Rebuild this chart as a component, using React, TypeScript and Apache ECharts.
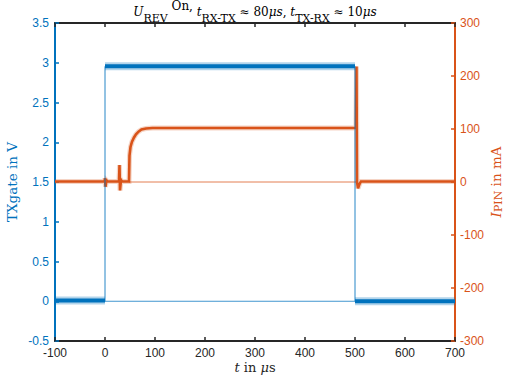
import React, { useEffect, useRef } from "react";
import * as echarts from "echarts";

// ---- data ----
const xMin = -100;
const xMax = 700;
const xInterval = 100;
const leftMin = -0.5;
const leftMax = 3.5;
const leftInterval = 0.5;
const rightMin = -300;
const rightMax = 300;
const rightInterval = 100;

// TXgate in V
const gateLowBefore: number[][] = [[-100, 0.01], [0, 0.01]];
const gateHigh: number[][] = [[0, 2.955], [500, 2.955]];
const gateLowAfter: number[][] = [[500, 0.0], [700, 0.0]];
const gateEdges: number[][] = [[-100, 0], [0, 0], [0, 2.955], [500, 2.955], [500, 0], [700, 0]];
const gateReturn: number[][] = [[0, 0], [500, 0]];

// I_PIN in mA
const pinCurrent: number[][] = [
  [-100, 1], [-1, 1], [0, 7], [1, -9], [3, 3], [5, 1], [28, 1], [29, 32], [30, -16],
  [32, 4], [34, 1], [48, 1], [49, 50], [51, 66], [54, 76], [58, 84], [62, 90], [67, 95],
  [73, 99], [82, 101], [95, 102], [500, 102], [502, 102], [503, 218], [504, 0],
  [506, -12], [509, -4], [512, 1], [700, 1],
];
const pinReturn: number[][] = [[48, 0], [503, 0]];

const BLUE = "#0072BD";
const ORANGE = "#D95319";
const DARK = "#262626";
const SERIF = "'DejaVu Serif', 'Liberation Serif', serif";
const SANS = "'Liberation Sans', Arial, Helvetica, sans-serif";

export default function App() {
  const ref = useRef<HTMLDivElement>(null);
  useEffect(() => {
    if (!ref.current) return;
    const chart = echarts.init(ref.current, undefined, { renderer: "svg" });
    const lineSeries = (
      data: number[][],
      yAxisIndex: number,
      color: string,
      width: number,
      opacity = 1,
      z = 2
    ) => ({
      type: "line",
      data,
      xAxisIndex: 0,
      yAxisIndex,
      symbol: "none",
      silent: true,
      z,
      lineStyle: { color, width, opacity, join: "miter", cap: "butt" },
    });
    chart.setOption({
      animation: false,
      title: {
        text:
          "{i|U}{sub|REV} {sup|On,} {i|t}{sub|RX-TX} ≈ 80{i|μs}, {i|t}{sub|TX-RX} ≈ 10{i|μs}",
        left: 255,
        textAlign: "center",
        top: 0,
        padding: 0,
        textStyle: {
          fontFamily: SERIF,
          fontSize: 12,
          fontWeight: "normal",
          color: "#000",
          lineHeight: 24,
          rich: {
            i: { fontFamily: SERIF, fontSize: 12, fontStyle: "italic", color: "#000" },
            sub: { fontFamily: SERIF, fontSize: 11, lineHeight: 12, verticalAlign: "bottom", color: "#000" },
            sup: { fontFamily: SERIF, fontSize: 12, lineHeight: 15, verticalAlign: "top", color: "#000" },
          },
        },
      },
      grid: { left: 55, right: 51, top: 23, bottom: 36, containLabel: false, outerBoundsMode: "none" },
      xAxis: [
        {
          type: "value",
          min: xMin,
          max: xMax,
          interval: xInterval,
          position: "bottom",
          name: "{i|t} in {i|μ}s",
          nameLocation: "middle",
          nameGap: 20,
          nameMoveOverlap: false,
          nameTextStyle: {
            fontFamily: SERIF,
            fontSize: 13,
            color: DARK,
            rich: { i: { fontFamily: SERIF, fontSize: 13, fontStyle: "italic", color: DARK } },
          },
          axisLine: { show: true, onZero: false, lineStyle: { color: DARK, width: 2 } },
          axisTick: { show: true, inside: true, length: 4, lineStyle: { color: DARK, width: 1.5 } },
          axisLabel: { color: DARK, fontFamily: SANS, fontSize: 12, margin: 6 },
          splitLine: { show: false },
        },
        {
          type: "value",
          min: xMin,
          max: xMax,
          interval: xInterval,
          position: "top",
          axisLine: { show: true, onZero: false, lineStyle: { color: DARK, width: 2 } },
          axisTick: { show: true, inside: true, length: 4, lineStyle: { color: DARK, width: 1.5 } },
          axisLabel: { show: false },
          splitLine: { show: false },
        },
      ],
      yAxis: [
        {
          type: "value",
          min: leftMin,
          max: leftMax,
          interval: leftInterval,
          position: "left",
          name: "TXgate in V",
          nameLocation: "middle",
          nameRotate: 90,
          nameGap: 36,
          nameMoveOverlap: false,
          nameTextStyle: { fontFamily: SERIF, fontSize: 13.5, color: BLUE },
          axisLine: { show: true, onZero: false, lineStyle: { color: BLUE, width: 2 } },
          axisTick: { show: true, inside: true, length: 4, lineStyle: { color: BLUE, width: 1.5 } },
          axisLabel: { color: BLUE, fontFamily: SANS, fontSize: 12, margin: 6 },
          splitLine: { show: false },
        },
        {
          type: "value",
          min: rightMin,
          max: rightMax,
          interval: rightInterval,
          position: "right",
          name: "{i|I}{sub|PIN} in mA",
          nameLocation: "middle",
          nameRotate: 90,
          nameGap: 33,
          nameMoveOverlap: false,
          nameTextStyle: {
            fontFamily: SERIF,
            fontSize: 13.5,
            color: ORANGE,
            lineHeight: 16,
            rich: {
              i: { fontFamily: SERIF, fontSize: 13.5, fontStyle: "italic", color: ORANGE },
              sub: { fontFamily: SERIF, fontSize: 11, lineHeight: 11, verticalAlign: "bottom", color: ORANGE },
            },
          },
          axisLine: { show: true, onZero: false, lineStyle: { color: ORANGE, width: 2 } },
          axisTick: { show: true, inside: true, length: 4, lineStyle: { color: ORANGE, width: 1.5 } },
          axisLabel: { color: ORANGE, fontFamily: SANS, fontSize: 12, margin: 5 },
          splitLine: { show: false },
        },
      ],
      series: [
        // orange (right axis)
        lineSeries(pinReturn, 1, ORANGE, 1, 0.75, 2),
        lineSeries(pinCurrent, 1, ORANGE, 5, 0.25, 2),
        lineSeries(pinCurrent, 1, ORANGE, 2.6, 1, 3),
        // blue (left axis)
        lineSeries(gateReturn, 0, BLUE, 1, 0.75, 4),
        lineSeries(gateEdges, 0, BLUE, 1, 0.85, 4),
        lineSeries(gateLowBefore, 0, BLUE, 8, 0.3, 4),
        lineSeries(gateHigh, 0, BLUE, 8, 0.3, 4),
        lineSeries(gateLowAfter, 0, BLUE, 8, 0.3, 4),
        lineSeries(gateLowBefore, 0, BLUE, 4, 1, 5),
        lineSeries(gateHigh, 0, BLUE, 4, 1, 5),
        lineSeries(gateLowAfter, 0, BLUE, 4, 1, 5),
      ],
    });
    return () => chart.dispose();
  }, []);
  return (
    <div
      ref={ref}
      style={{ position: "fixed", left: 0, top: 0, width: 506, height: 377, background: "#fff" }}
    />
  );
}
